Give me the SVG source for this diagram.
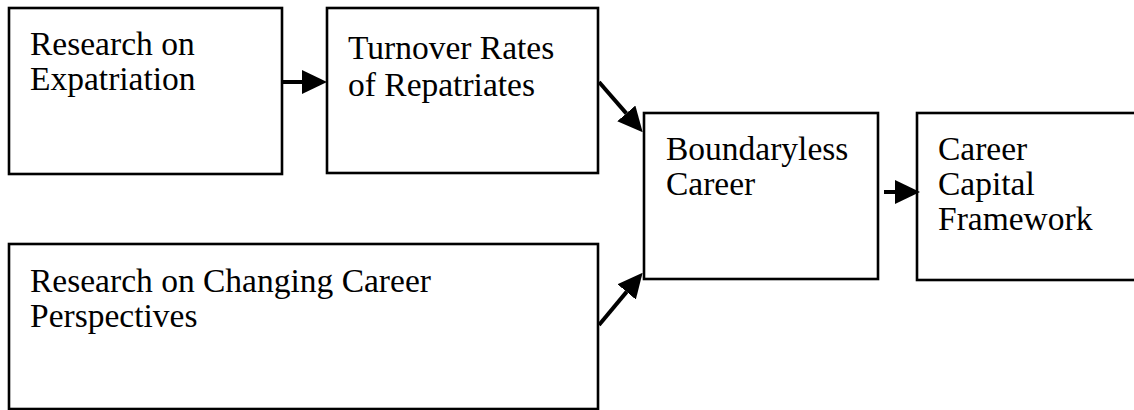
<svg xmlns="http://www.w3.org/2000/svg" width="1134" height="410" viewBox="0 0 1134 410">
<style>
.box{fill:#fff;stroke:#000;stroke-width:2.6}
.lbl{font-family:"Liberation Serif","Times New Roman",serif;font-size:33.5px;fill:#000}
.arr{stroke:#000;stroke-width:4;fill:none;marker-end:url(#ah)}
</style>
<defs>
<marker id="ah" viewBox="0 0 25 24" refX="0" refY="12" markerWidth="25" markerHeight="24" markerUnits="userSpaceOnUse" orient="auto">
<path d="M0,0 L25,12 L0,24 Z" fill="#000"/>
</marker>
</defs>
<rect width="1134" height="410" fill="#fff"/>
<g id="n1">
<rect class="box" x="9" y="8" width="273" height="166"/>
<text class="lbl" x="30" y="55">Research on</text>
<text class="lbl" x="30" y="90">Expatriation</text>
</g>
<g id="n2">
<rect class="box" x="327" y="8" width="271" height="165"/>
<text class="lbl" x="348" y="59">Turnover Rates</text>
<text class="lbl" x="348" y="96">of Repatriates</text>
</g>
<g id="n3">
<rect class="box" x="644" y="113" width="234" height="166"/>
<text class="lbl" x="666" y="160">Boundaryless</text>
<text class="lbl" x="666" y="195">Career</text>
</g>
<g id="n4">
<rect class="box" x="917" y="113" width="230" height="167"/>
<text class="lbl" x="938" y="160">Career</text>
<text class="lbl" x="938" y="195">Capital</text>
<text class="lbl" x="938" y="230">Framework</text>
</g>
<g id="n5">
<rect class="box" x="9" y="244" width="589" height="165"/>
<text class="lbl" x="30" y="292">Research on Changing Career</text>
<text class="lbl" x="30" y="327">Perspectives</text>
</g>
<g id="connectors">
<line class="arr" x1="283" y1="82" x2="302" y2="82"/>
<line class="arr" x1="599" y1="82" x2="626.3" y2="113.4"/>
<line class="arr" x1="599" y1="325" x2="626.6" y2="291.9"/>
<line class="arr" x1="884" y1="192" x2="895" y2="192"/>
</g>
</svg>
